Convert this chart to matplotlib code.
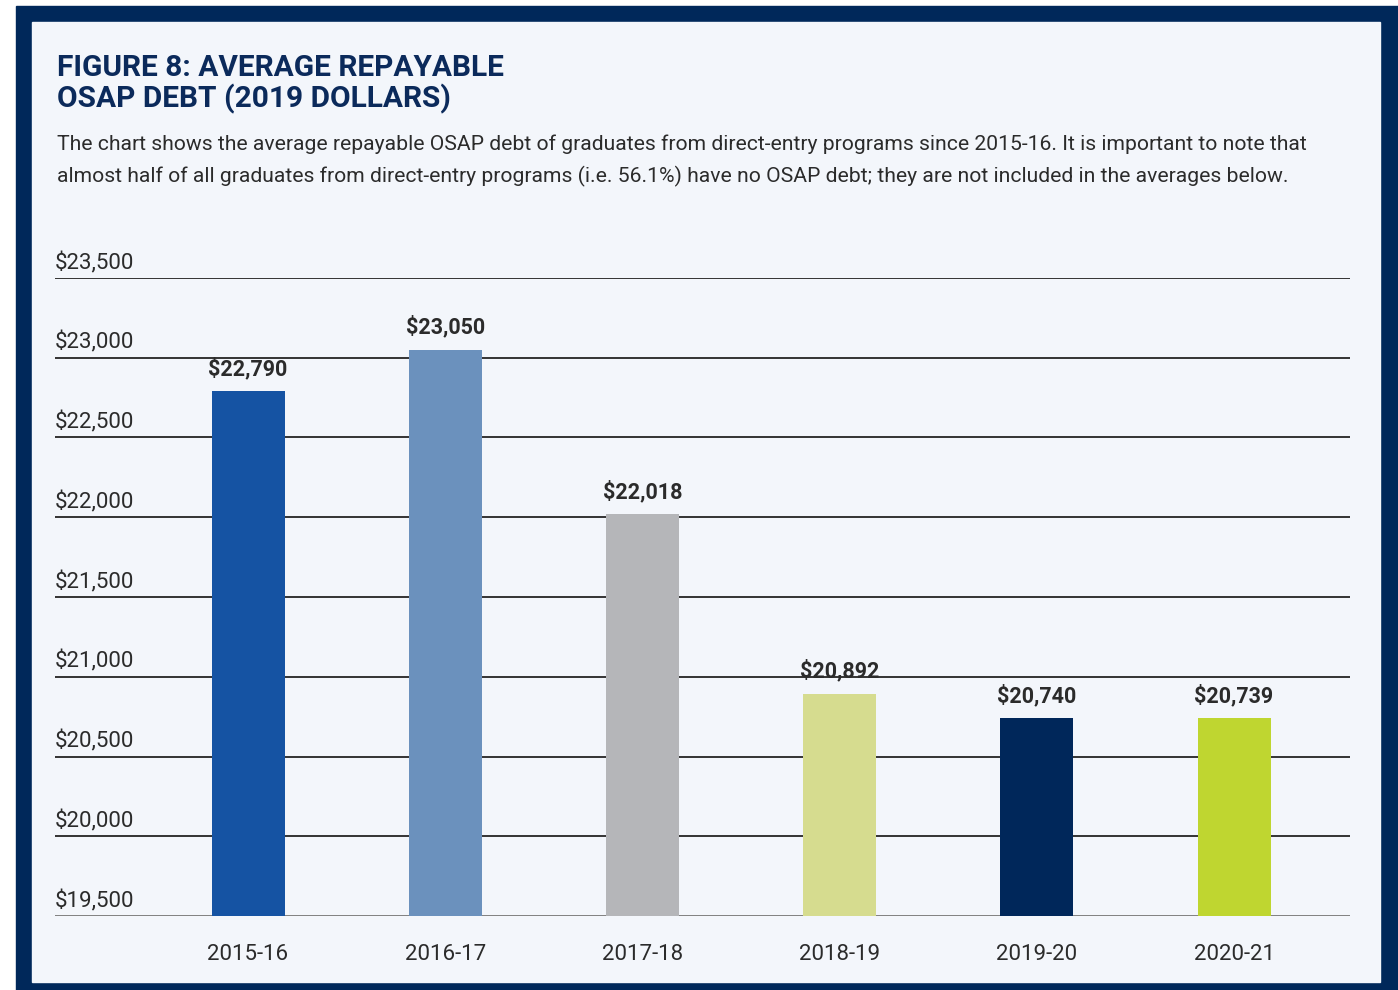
import matplotlib
matplotlib.use("Agg")
import matplotlib.pyplot as plt
from matplotlib.patches import Rectangle

years = ["2015-16", "2016-17", "2017-18", "2018-19", "2019-20", "2020-21"]
debt = [22790, 23050, 22018, 20892, 20740, 20739]
bar_colors = ["#1553a3", "#6b91bd", "#b5b6b9", "#d6dc8f", "#00275a", "#bfd630"]
y_ticks = [19500, 20000, 20500, 21000, 21500, 22000, 22500, 23000, 23500]

title = "FIGURE 8: AVERAGE REPAYABLE\nOSAP DEBT (2019 DOLLARS)"
subtitle = ("The chart shows the average repayable OSAP debt of graduates from direct-entry programs since 2015-16. It is important to note that\n"
            "almost half of all graduates from direct-entry programs (i.e. 56.1%) have no OSAP debt; they are not included in the averages below.")

NAVY = "#00285a"
BG = "#f3f6fb"
TEXT = "#2b2b2b"

plt.rcParams["font.family"] = ["Roboto", "DejaVu Sans"]

fig = plt.figure(figsize=(13.98, 9.9), dpi=100)
fig.patch.set_facecolor("white")
# navy frame with light panel inside
fig.patches.append(Rectangle((16 / 1398, 0), 1 - 16 / 1398, 1 - 6 / 990,
                             transform=fig.transFigure, color=NAVY, zorder=-2))
fig.patches.append(Rectangle((32 / 1398, 8 / 990), (1380 - 32) / 1398, (968 - 8) / 990,
                             transform=fig.transFigure, color=BG, zorder=-1))

fig.text(57 / 1398, 1 - 54 / 990, title, ha="left", va="top", fontsize=21.5,
         fontweight="bold", color="#0b2a5b", linespacing=1.08)
fig.text(57 / 1398, 1 - 134 / 990, subtitle, ha="left", va="top", fontsize=15.2,
         color=TEXT, linespacing=1.78)

ax = fig.add_axes([55 / 1398, 1 - 916 / 990, (1350 - 55) / 1398, (916 - 278) / 990])
ax.set_facecolor("none")
x = list(range(len(years)))
ax.bar(x, [d - 19500 for d in debt], bottom=19500, width=0.37, color=bar_colors, zorder=3)
ax.set_xlim(-0.979, 5.588)
ax.set_ylim(19500, 23500)

for yv in y_ticks:
    ax.axhline(yv, color="#333333" if yv > 19500 else "#808080", lw=1.4, zorder=1)
    ax.text(0.0, yv + 25, f"${yv:,}", transform=ax.get_yaxis_transform(),
            ha="left", va="bottom", fontsize=16, color=TEXT)

for xi, d in zip(x, debt):
    ax.text(xi, d + 70, f"${d:,}", ha="center", va="bottom", fontsize=15.5,
            fontweight="bold", color=TEXT, zorder=4)

ax.set_yticks([])
ax.set_xticks(x)
ax.set_xticklabels(years, fontsize=16, color=TEXT)
ax.tick_params(axis="x", length=0, pad=20)
for s in ax.spines.values():
    s.set_visible(False)

fig.savefig("out.png", dpi=100, facecolor=fig.get_facecolor())
